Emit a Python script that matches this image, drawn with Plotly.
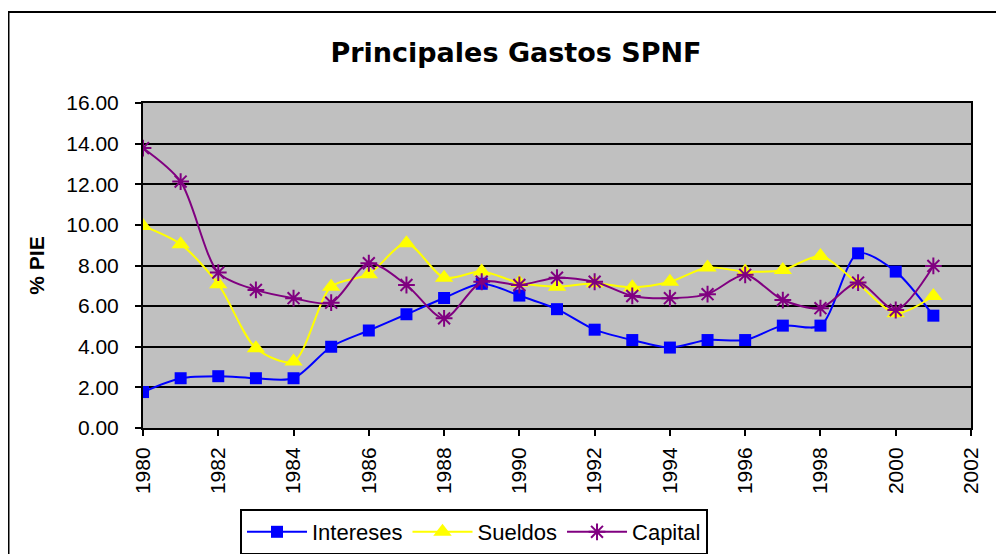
import plotly.graph_objects as go

years = list(range(1980, 2002))
intereses = [1.77, 2.45, 2.55, 2.45, 2.45, 4.0, 4.8, 5.6, 6.4, 7.1, 6.52, 5.85,
             4.84, 4.33, 3.96, 4.33, 4.33, 5.04, 5.04, 8.6, 7.7, 5.53]
sueldos = [9.95, 9.05, 7.08, 3.93, 3.27, 6.96, 7.57, 9.1, 7.4, 7.7, 7.15, 6.96,
           7.13, 6.93, 7.2, 7.9, 7.7, 7.78, 8.47, 7.1, 5.65, 6.5]
capital = [13.78, 12.13, 7.65, 6.8, 6.39, 6.17, 8.11, 7.04, 5.4, 7.2, 7.04, 7.4,
           7.2, 6.5, 6.39, 6.59, 7.54, 6.3, 5.9, 7.16, 5.81, 7.98]

title_text = "Principales Gastos SPNF"
y_title = "% PIE"

FONT = "Liberation Sans, Arial, sans-serif"

fig = go.Figure()
fig.add_trace(go.Scatter(
    x=years, y=intereses, name="Intereses", mode="lines+markers",
    line=dict(color="#0000FF", width=2, shape="spline", smoothing=0.8),
    marker=dict(symbol="square", size=12, color="#0000FF"),
))
fig.add_trace(go.Scatter(
    x=years, y=sueldos, name="Sueldos", mode="lines+markers",
    line=dict(color="#FFFF00", width=2, shape="spline", smoothing=0.8),
    marker=dict(symbol="triangle-up", size=16, color="#FFFF00"),
))
fig.add_trace(go.Scatter(
    x=years, y=capital, name="Capital", mode="lines+markers",
    line=dict(color="#800080", width=2, shape="spline", smoothing=0.8),
    marker=dict(symbol="asterisk-open", size=14, color="#800080",
                line=dict(color="#800080", width=2)),
))

# page has an 8px body margin: figure origin sits at screen (8, 8)
OFF = 8
W, H = 996, 546
L = 143 - OFF
T = 103 - OFF
R = W - (971 - OFF)
B = H - (428 - OFF)
pw, ph = W - L - R, H - T - B

def px_x(p):
    return (p - OFF - L) / pw

def px_y(p):
    return (H - B - (p - OFF)) / ph

fig.update_layout(
    width=W, height=H,
    margin=dict(l=L, r=R, t=T, b=B, autoexpand=False),
    paper_bgcolor="white",
    plot_bgcolor="#C0C0C0",
    font=dict(family=FONT, size=20, color="black"),
    title=dict(text="<b>" + title_text + "</b>", x=px_x(516), xref="paper",
               xanchor="center", y=1 - (53 - OFF) / H, yref="container",
               yanchor="middle",
               font=dict(family="DejaVu Sans, " + FONT, size=27, color="black")),
    showlegend=True,
    legend=dict(orientation="h", x=px_x(240), xanchor="left", y=px_y(509),
                yanchor="top", bordercolor="black", borderwidth=2,
                bgcolor="white", font=dict(family=FONT, size=22, color="black"),
                itemwidth=60, tracegroupgap=0),
    shapes=[dict(type="rect", xref="paper", yref="paper",
                 x0=px_x(8.5), x1=px_x(1030), y0=px_y(600), y1=px_y(12),
                 line=dict(color="black", width=2), fillcolor="rgba(0,0,0,0)",
                 layer="below")],
)

fig.update_xaxes(
    range=[1980, 2002], tick0=1980, dtick=2, tickangle=-90,
    showgrid=False, zeroline=False,
    showline=True, linecolor="black", linewidth=2, mirror=True,
    ticks="outside", ticklen=6, tickwidth=2, tickcolor="black",
    ticklabelstandoff=3,
    tickfont=dict(family=FONT, size=21, color="black"),
)
fig.update_yaxes(
    range=[0, 16], tick0=0, dtick=2, tickformat=".2f",
    showgrid=True, gridcolor="black", gridwidth=2, zeroline=False,
    showline=True, linecolor="black", linewidth=2, mirror=True,
    ticks="outside", ticklen=6, tickwidth=2, tickcolor="black",
    ticklabelstandoff=12,
    tickfont=dict(family=FONT, size=21, color="black"),
    title=dict(text="<b>" + y_title + "</b>", standoff=16,
               font=dict(family=FONT, size=21, color="black")),
)

fig.write_html("out.html")
